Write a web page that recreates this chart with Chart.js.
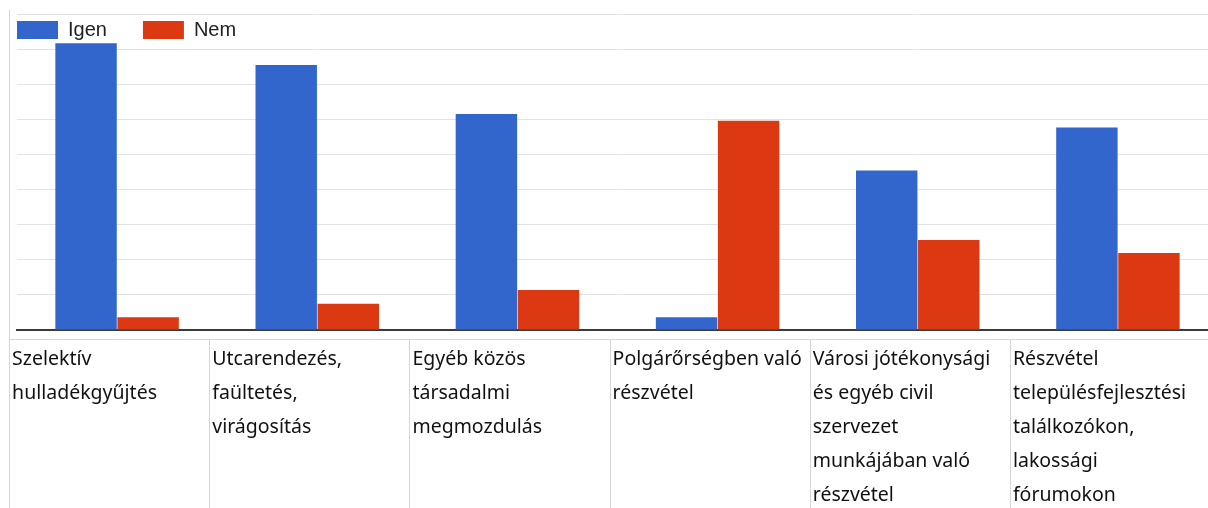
<!DOCTYPE html>
<html>
<head>
    <title>Igen / Nem</title>
    <meta charset="UTF-8">
    <script src="https://cdn.jsdelivr.net/npm/chart.js"></script>
    <style>
        body {
            margin: 0;
            background: #fff;
            overflow: hidden;
        }

        .chart-container {
            position: absolute;
            left: 0;
            top: 0;
            width: 1218px;
            height: 508px;
        }
    </style>
</head>
<body>
<div class="chart-container">
    <canvas id="barChart"></canvas>
</div>

<script>
    const categories = [
        ['Szelektív', 'hulladékgyűjtés'],
        ['Utcarendezés,', 'faültetés,', 'virágosítás'],
        ['Egyéb közös', 'társadalmi', 'megmozdulás'],
        ['Polgárőrségben való', 'részvétel'],
        ['Városi jótékonysági', 'és egyéb civil', 'szervezet', 'munkájában való', 'részvétel'],
        ['Részvétel', 'településfejlesztési', 'találkozókon,', 'lakossági', 'fórumokon']
    ];
    const seriesNames = ['Igen', 'Nem'];
    const igenValues = [81.7, 75.5, 61.5, 3.6, 45.4, 57.7];
    const nemValues = [3.6, 7.5, 11.4, 59.6, 25.6, 21.9];
    const yMax = 90;
    const yStep = 10;

    // legend takes no room of its own, it is put inside the plot, top left
    const legendInside = {
        id: 'legendInside',
        afterLayout(chart) {
            const lg = chart.legend;
            const area = chart.chartArea;
            const p = lg.options.labels.padding;
            lg.left = area.left - p;
            lg.right = chart.width;
            lg.top = area.top - p + 6;
            lg.bottom = area.top + 40;
            lg.width = lg.right - lg.left;
            lg.height = lg.bottom - lg.top;
        }
    };

    // table lines under the axis, one cell per category
    const cellLines = {
        id: 'cellLines',
        afterDraw(chart) {
            const x = chart.scales.x;
            const ctx = chart.ctx;
            const half = (x.getPixelForValue(1) - x.getPixelForValue(0)) / 2;
            const rowTop = chart.chartArea.bottom + 9;
            ctx.save();
            ctx.strokeStyle = '#d6d6d6';
            ctx.lineWidth = 1;
            ctx.beginPath();
            ctx.moveTo(x.getPixelForValue(0) - half - 8, rowTop + 0.5);
            ctx.lineTo(chart.width, rowTop + 0.5);
            categories.forEach((c, i) => {
                const px = Math.round(x.getPixelForValue(i) - half - 8) + 0.5;
                ctx.moveTo(px, i === 0 ? chart.chartArea.top - 4 : rowTop);
                ctx.lineTo(px, chart.height);
            });
            ctx.stroke();
            ctx.restore();
        }
    };

    const ctx = document.getElementById('barChart').getContext('2d');
    new Chart(ctx, {
        type: 'bar',
        data: {
            labels: categories,
            datasets: [{
                label: seriesNames[0],
                data: igenValues,
                backgroundColor: '#3366cc',
                borderWidth: 0
            }, {
                label: seriesNames[1],
                data: nemValues,
                backgroundColor: '#dc3912',
                borderWidth: 0
            }]
        },
        options: {
            responsive: true,
            maintainAspectRatio: false,
            animation: false,
            datasets: {
                bar: {
                    categoryPercentage: 0.62,
                    barPercentage: 0.99
                }
            },
            layout: {
                padding: { left: 17, top: 14, right: 0, bottom: 0 }
            },
            scales: {
                y: {
                    min: 0,
                    max: yMax,
                    ticks: { display: false, stepSize: yStep },
                    grid: { color: '#e3e3e3', lineWidth: 1, drawTicks: false },
                    border: { display: false }
                },
                x: {
                    grid: { display: false },
                    border: { color: '#3a3a3a', width: 2 },
                    afterFit: scale => {
                        scale.height = 178;
                        scale.paddingLeft = 0;
                        scale.paddingRight = 0;
                    },
                    ticks: {
                        autoSkip: false,
                        maxRotation: 0,
                        minRotation: 0,
                        align: 'start',
                        labelOffset: -105,
                        padding: 4,
                        color: '#111',
                        font: { family: 'Noto Sans', size: 19.5, lineHeight: 1.75 }
                    }
                }
            },
            plugins: {
                legend: {
                    position: 'top',
                    align: 'start',
                    maxHeight: 0.01,
                    labels: {
                        boxWidth: 41,
                        boxHeight: 18,
                        padding: 36,
                        color: '#222',
                        font: { family: 'Liberation Sans', size: 20 }
                    }
                },
                tooltip: { enabled: false }
            }
        },
        plugins: [legendInside, cellLines]
    });
</script>
</body>
</html>
